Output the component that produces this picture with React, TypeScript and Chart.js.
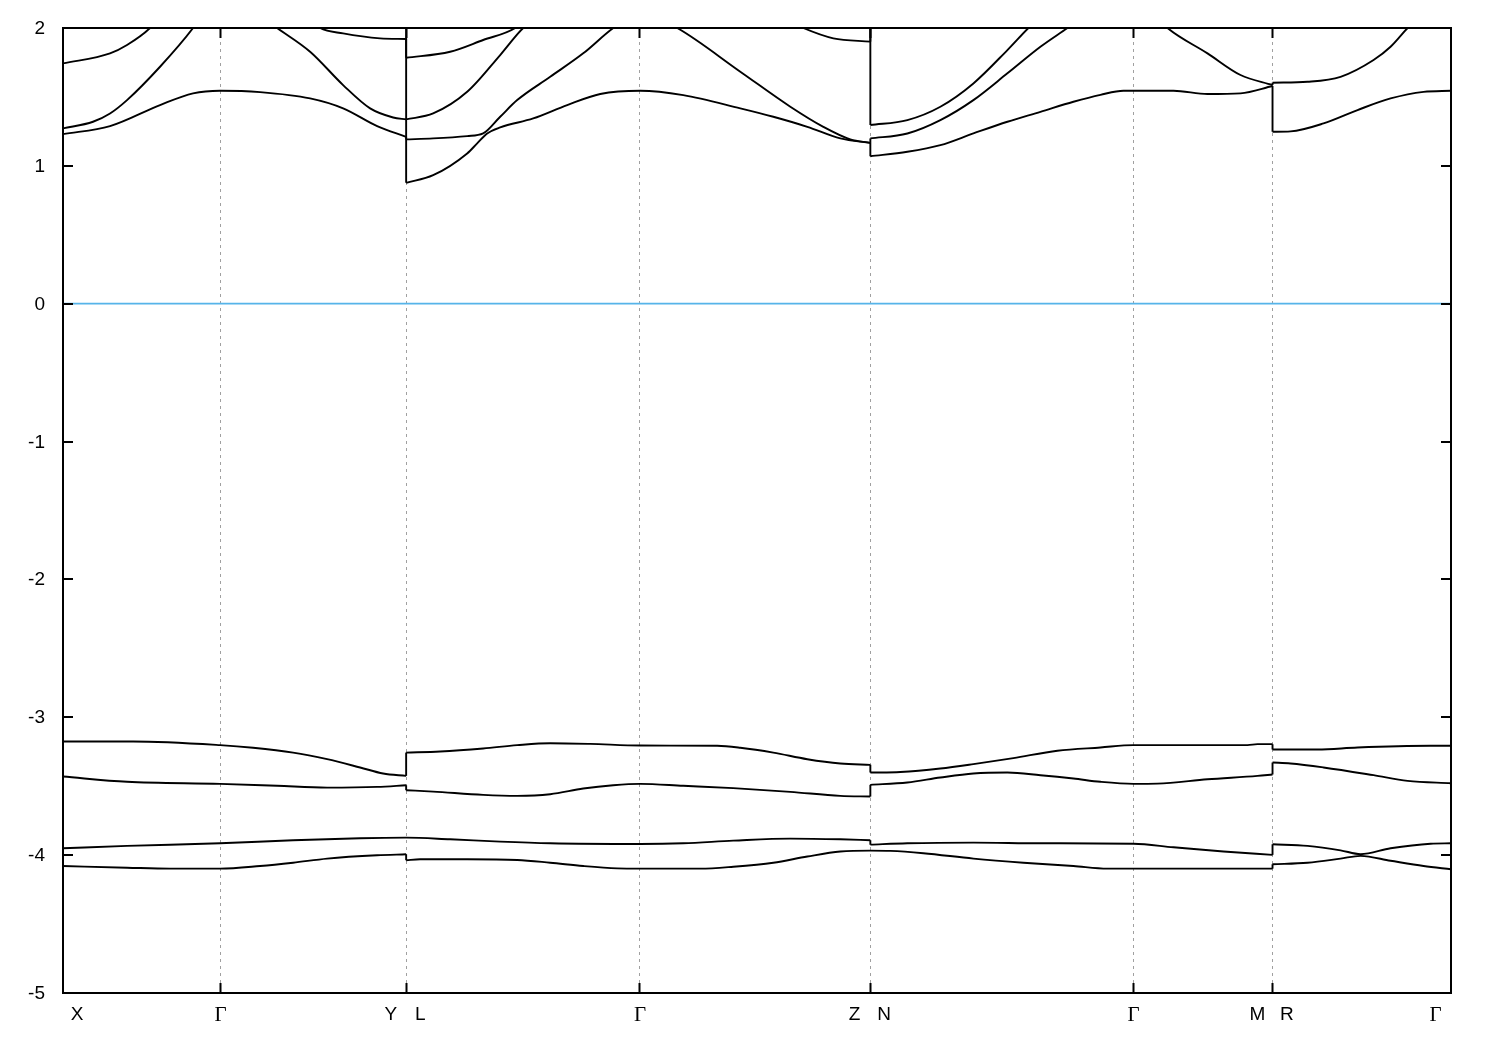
import React, { useEffect, useRef } from 'react';
import { Chart, registerables } from 'chart.js';

Chart.register(...registerables);

// High-symmetry points along the k-path
const kTicks = [0, 0.1574, 0.3432, 0.5767, 0.8067, 1.07, 1.2094, 1.3874];
const kLabels = ['X', 'Γ', 'Y|L', 'Γ', 'Z|N', 'Γ', 'M|R', 'Γ'];
const yTicks = [-5, -4, -3, -2, -1, 0, 1, 2];
const fermiLevel = 0;

// Conduction bands [k, E]
const bandC1 = [[0,1.230],[0.047,1.288],[0.097,1.441],[0.130,1.526],[0.157,1.545],[0.197,1.535],[0.247,1.489],[0.280,1.417],[0.314,1.288],[0.343,1.211],[0.343,0.877],[0.370,0.932],[0.404,1.090],[0.414,1.163],[0.424,1.235],[0.437,1.279],[0.470,1.344],[0.504,1.441],[0.537,1.521],[0.577,1.545],[0.620,1.513],[0.677,1.417],[0.710,1.356],[0.744,1.283],[0.777,1.199],[0.807,1.167],[0.807,1.070],[0.844,1.102],[0.877,1.150],[0.910,1.235],[0.944,1.320],[0.977,1.392],[1.010,1.465],[1.037,1.515],[1.060,1.545],[1.070,1.545],[1.110,1.545],[1.144,1.521],[1.177,1.526],[1.209,1.579],[1.209,1.247],[1.227,1.250],[1.260,1.308],[1.294,1.405],[1.327,1.489],[1.360,1.537],[1.3874,1.545]];
const bandC2 = [[0,1.272],[0.030,1.320],[0.047,1.380],[0.064,1.477],[0.097,1.719],[0.130,2.0],[0.144,2.15],[0.157,2.22],[0.187,2.14],[0.214,2.0],[0.247,1.828],[0.280,1.586],[0.307,1.417],[0.330,1.351],[0.343,1.337],[0.343,1.192],[0.370,1.199],[0.404,1.216],[0.420,1.235],[0.437,1.356],[0.454,1.477],[0.487,1.646],[0.520,1.816],[0.550,2.0],[0.577,2.12],[0.614,2.0],[0.677,1.683],[0.727,1.429],[0.760,1.283],[0.787,1.192],[0.807,1.167],[0.807,1.199],[0.844,1.235],[0.877,1.332],[0.910,1.477],[0.944,1.671],[0.977,1.864],[1.004,2.0],[1.037,2.17],[1.070,2.25],[1.104,2.0],[1.144,1.816],[1.177,1.659],[1.209,1.586],[1.209,1.603],[1.244,1.610],[1.277,1.646],[1.310,1.768],[1.327,1.864],[1.344,2.0],[1.3874,2.3]];
const bandC3 = [[0,1.743],[0.047,1.816],[0.064,1.877],[0.087,2.0],[0.157,2.6],[0.257,2.0],[0.280,1.961],[0.317,1.925],[0.343,1.920],[0.343,1.337],[0.370,1.380],[0.404,1.537],[0.437,1.804],[0.460,2.0],[0.577,2.6],[0.740,2.0],[0.770,1.925],[0.807,1.901],[0.807,2.4],[1.070,2.8],[1.209,2.5],[1.3874,2.7]];
const bandC4 = [[0,2.3],[0.157,2.9],[0.343,2.5],[0.343,1.784],[0.387,1.828],[0.420,1.913],[0.452,2.0],[0.577,2.8],[0.807,2.5],[0.807,1.296],[0.844,1.332],[0.877,1.429],[0.910,1.598],[0.944,1.840],[0.965,2.0],[1.070,2.7],[1.209,2.8],[1.3874,2.9]];

// Valence bands [k, E]
const bandV4 = [[0,-3.176],[0.070,-3.176],[0.157,-3.202],[0.190,-3.221],[0.230,-3.256],[0.264,-3.304],[0.297,-3.364],[0.320,-3.408],[0.343,-3.425],[0.343,-3.256],[0.377,-3.248],[0.420,-3.226],[0.454,-3.202],[0.487,-3.188],[0.527,-3.193],[0.577,-3.205],[0.654,-3.207],[0.677,-3.221],[0.710,-3.256],[0.744,-3.304],[0.777,-3.335],[0.807,-3.345],[0.807,-3.401],[0.837,-3.397],[0.877,-3.372],[0.910,-3.340],[0.950,-3.296],[0.994,-3.243],[1.037,-3.219],[1.070,-3.202],[1.184,-3.202],[1.194,-3.195],[1.209,-3.195],[1.209,-3.234],[1.254,-3.234],[1.294,-3.219],[1.367,-3.207],[1.3874,-3.207]];
const bandV3 = [[0,-3.430],[0.064,-3.468],[0.157,-3.483],[0.214,-3.497],[0.264,-3.510],[0.314,-3.505],[0.343,-3.493],[0.343,-3.529],[0.370,-3.539],[0.420,-3.563],[0.454,-3.570],[0.487,-3.558],[0.520,-3.517],[0.550,-3.493],[0.577,-3.483],[0.620,-3.497],[0.670,-3.514],[0.727,-3.541],[0.777,-3.570],[0.807,-3.575],[0.807,-3.490],[0.844,-3.473],[0.877,-3.437],[0.910,-3.408],[0.944,-3.401],[0.977,-3.420],[1.010,-3.444],[1.037,-3.468],[1.070,-3.483],[1.094,-3.481],[1.144,-3.450],[1.194,-3.425],[1.209,-3.415],[1.209,-3.328],[1.227,-3.335],[1.260,-3.364],[1.310,-3.420],[1.344,-3.461],[1.3874,-3.478]];
const bandV2 = [[0,-3.950],[0.064,-3.933],[0.157,-3.914],[0.230,-3.892],[0.297,-3.877],[0.343,-3.873],[0.387,-3.885],[0.437,-3.902],[0.487,-3.914],[0.577,-3.919],[0.620,-3.914],[0.670,-3.895],[0.727,-3.880],[0.777,-3.885],[0.807,-3.892],[0.807,-3.924],[0.844,-3.914],[0.910,-3.909],[0.977,-3.914],[1.070,-3.917],[1.110,-3.943],[1.160,-3.974],[1.209,-3.998],[1.209,-3.921],[1.244,-3.933],[1.277,-3.965],[1.297,-3.993],[1.327,-3.950],[1.367,-3.917],[1.3874,-3.914]];
const bandV1 = [[0,-4.079],[0.064,-4.091],[0.107,-4.098],[0.157,-4.098],[0.197,-4.079],[0.230,-4.055],[0.264,-4.025],[0.314,-4.001],[0.343,-3.994],[0.343,-4.037],[0.357,-4.030],[0.404,-4.030],[0.454,-4.035],[0.487,-4.055],[0.520,-4.079],[0.554,-4.096],[0.577,-4.098],[0.637,-4.098],[0.670,-4.084],[0.710,-4.055],[0.744,-4.010],[0.777,-3.974],[0.807,-3.967],[0.827,-3.969],[0.860,-3.986],[0.910,-4.025],[0.960,-4.055],[1.010,-4.079],[1.044,-4.098],[1.070,-4.098],[1.209,-4.098],[1.209,-4.066],[1.244,-4.055],[1.277,-4.025],[1.297,-4.005],[1.327,-4.041],[1.360,-4.079],[1.3874,-4.102]];

const bands = [bandV1, bandV2, bandV3, bandV4, bandC1, bandC2, bandC3, bandC4];

const SANS = '"Liberation Sans", Arial, sans-serif';
const SERIF = '"Liberation Serif", "Times New Roman", serif';
const LINE_W = 1.9;
const LABEL_PX = 19;

// split a band at the path discontinuities (equal k): smooth pieces + vertical joins
function splitBand(b: number[][]) {
  const pieces: number[][][] = [];
  const joins: number[][][] = [];
  let cur: number[][] = [b[0]];
  for (let i = 1; i < b.length; i++) {
    if (b[i][0] === b[i - 1][0]) {
      pieces.push(cur);
      joins.push([b[i - 1], b[i]]);
      cur = [b[i]];
    } else cur.push(b[i]);
  }
  pieces.push(cur);
  return { pieces, joins };
}

const framePlugin = {
  id: 'gnuFrame',
  beforeDatasetsDraw(chart: any) {
    const { ctx, chartArea: a, scales } = chart;
    const x = scales.x;
    ctx.save();
    ctx.strokeStyle = '#a0a0a0';
    ctx.lineWidth = 1;
    ctx.setLineDash([3, 4]);
    kTicks.slice(1, -1).forEach((k) => {
      const px = Math.floor(x.getPixelForValue(k)) + 0.5;
      ctx.beginPath();
      ctx.moveTo(px, a.top);
      ctx.lineTo(px, a.bottom);
      ctx.stroke();
    });
    ctx.restore();
  },
  afterDraw(chart: any) {
    const { ctx, chartArea: a, scales } = chart;
    const x = scales.x;
    const y = scales.y;
    ctx.save();
    ctx.strokeStyle = '#000';
    ctx.lineWidth = 2;
    ctx.setLineDash([]);
    ctx.strokeRect(a.left, a.top, a.right - a.left, a.bottom - a.top);
    const tl = 10;
    ctx.fillStyle = '#000';
    ctx.textBaseline = 'middle';
    yTicks.forEach((v) => {
      const py = Math.round(y.getPixelForValue(v));
      ctx.beginPath();
      ctx.moveTo(a.left, py);
      ctx.lineTo(a.left + tl, py);
      ctx.moveTo(a.right, py);
      ctx.lineTo(a.right - tl, py);
      ctx.stroke();
      ctx.font = `${LABEL_PX}px ${SANS}`;
      ctx.textAlign = 'right';
      ctx.fillText(String(v), a.left - 18, py + 1);
    });
    kTicks.slice(1, -1).forEach((k) => {
      const px = Math.floor(x.getPixelForValue(k)) + 0.5;
      ctx.beginPath();
      ctx.moveTo(px, a.bottom);
      ctx.lineTo(px, a.bottom - tl);
      ctx.moveTo(px, a.top);
      ctx.lineTo(px, a.top + tl);
      ctx.stroke();
    });
    ctx.textAlign = 'center';
    const ly = a.bottom + 22;
    const draw = (t: string, px: number) => {
      ctx.font = t === 'Γ' ? `${LABEL_PX + 2}px ${SERIF}` : `${LABEL_PX}px ${SANS}`;
      ctx.fillText(t, px, ly);
    };
    const last = kTicks.length - 1;
    kTicks.forEach((k, i) => {
      const px = x.getPixelForValue(k);
      const parts = kLabels[i].split('|');
      if (i === 0) draw(parts[0], px + 14);
      else if (i === last) draw(parts[0], px - 15.5);
      else if (parts.length === 2) {
        draw(parts[0], px - 15.5);
        draw(parts[1], px + 14);
      } else draw(parts[0], px);
    });
    ctx.restore();
  },
};

export default function App() {
  const ref = useRef<HTMLCanvasElement | null>(null);
  useEffect(() => {
    if (!ref.current) return;
    const datasets: any[] = [
      {
        data: [
          { x: kTicks[0], y: fermiLevel },
          { x: kTicks[kTicks.length - 1], y: fermiLevel },
        ],
        borderColor: '#56b4e9',
        borderWidth: 1.8,
        pointRadius: 0,
        tension: 0,
        fill: false,
      },
    ];
    bands.forEach((b) => {
      const { pieces, joins } = splitBand(b);
      pieces.forEach((p) =>
        datasets.push({
          data: p.map(([k, e]) => ({ x: k, y: e })),
          borderColor: '#000',
          borderWidth: LINE_W,
          pointRadius: 0,
          cubicInterpolationMode: 'monotone',
          fill: false,
        })
      );
      joins.forEach((j) =>
        datasets.push({
          data: j.map(([k, e]) => ({ x: k, y: e })),
          borderColor: '#000',
          borderWidth: LINE_W,
          pointRadius: 0,
          tension: 0,
          fill: false,
        })
      );
    });
    const chart = new Chart(ref.current, {
      type: 'line',
      data: { datasets },
      plugins: [framePlugin],
      options: {
        animation: false,
        responsive: false,
        layout: { padding: { left: 63, top: 28, right: 49, bottom: 57 } },
        plugins: { legend: { display: false }, tooltip: { enabled: false } },
        scales: {
          x: {
            type: 'linear',
            display: false,
            min: kTicks[0],
            max: kTicks[kTicks.length - 1],
          },
          y: {
            type: 'linear',
            display: false,
            min: yTicks[0],
            max: yTicks[yTicks.length - 1],
          },
        },
      },
    });
    return () => chart.destroy();
  }, []);
  return (
    <div style={{ position: 'absolute', left: 0, top: 0, width: 1500, height: 1050, background: '#fff' }}>
      <canvas ref={ref} width={1500} height={1050} />
    </div>
  );
}
